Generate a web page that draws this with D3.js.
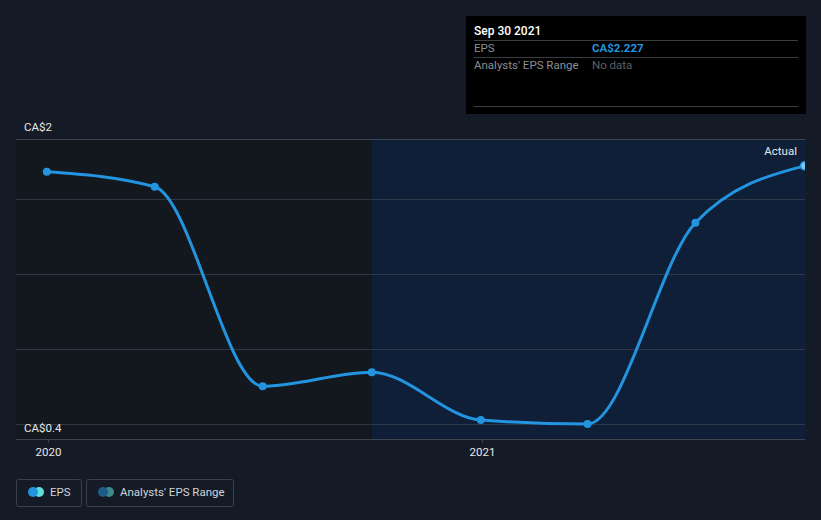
<!DOCTYPE html>
<html><head><meta charset="utf-8">
<script src="https://cdn.jsdelivr.net/npm/d3@7/dist/d3.min.js"></script>
<style>
html,body{margin:0;padding:0;background:#151b26;}
svg{display:block;font-family:Roboto,"Noto Sans",sans-serif;}
</style></head>
<body>
<svg id="c" width="821" height="520"></svg>
<script>
const dates = ["2019-12-31","2020-03-31","2020-06-30","2020-09-30","2020-12-31","2021-03-31","2021-06-30","2021-09-30"];
const eps = [2.187, 2.087, 0.753, 0.847, 0.527, 0.50, 1.847, 2.227];
const gridValues = [0.5, 1.0, 1.5, 2.0];
const yLabels = [{v:2.4, t:"CA$2"}, {v:0.4, t:"CA$0.4"}];
const xTicks = ["2020-01-01","2021-01-01"];
const xTickLabels = ["2020","2021"];
const forecastStart = "2020-09-30";

(function(){
const parse = d3.utcParse("%Y-%m-%d");
const data = dates.map((d,i)=>({date:parse(d), v:eps[i]}));
const svg = d3.select("#c");
const W=821,H=520;
svg.append("rect").attr("width",W).attr("height",H).attr("fill","#151b26");

const pl=16, pr=805, pt=140, pb=439;
const x0 = d3.scaleUtc().domain([parse("2020-01-01"), parse("2021-01-01")]).range([48,482]);
const y = d3.scaleLinear().domain([0.4,2.4]).range([pb,pt]);

const xs = x0(parse(forecastStart));
svg.append("rect").attr("x",pl).attr("y",pt).attr("width",xs-pl).attr("height",pb-pt).attr("fill","#13171e");
svg.append("rect").attr("x",xs).attr("y",pt).attr("width",pr-xs).attr("height",pb-pt).attr("fill","#0e1f37");

svg.append("g").selectAll("line").data(gridValues).join("line")
  .attr("x1",pl).attr("x2",pr).attr("y1",d=>Math.floor(y(d))+0.5).attr("y2",d=>Math.floor(y(d))+0.5)
  .attr("stroke","#2f3847").attr("stroke-width",1);
svg.append("line").attr("x1",pl).attr("x2",pr).attr("y1",pt-0.5).attr("y2",pt-0.5).attr("stroke","#3d434f");
svg.append("line").attr("x1",pl).attr("x2",pr).attr("y1",pb+0.5).attr("y2",pb+0.5).attr("stroke","#3d434f");

svg.append("text").attr("x",24).attr("y",y(yLabels[0].v)-9).attr("fill","#e6e8ea").attr("font-size",11.5).text(yLabels[0].t);
svg.append("text").attr("x",24).attr("y",y(yLabels[1].v)-7).attr("fill","#e6e8ea").attr("font-size",11.5).text(yLabels[1].t);

const xAxis = d3.axisBottom(x0).tickValues(xTicks.map(parse)).tickFormat((d,i)=>xTickLabels[i]).tickSize(4).tickPadding(5);
const gx = svg.append("g").attr("transform",`translate(0,${pb})`).call(xAxis);
gx.select(".domain").remove();
gx.selectAll("line").attr("stroke","#3d434f");
gx.selectAll("text").attr("fill","#e6e8ea").attr("font-size",11.5).attr("font-family","Roboto,sans-serif");

const line = d3.line().x(d=>x0(d.date)).y(d=>y(d.v)).curve(d3.curveMonotoneX);
svg.append("path").datum(data).attr("d",line).attr("fill","none").attr("stroke","#2394df").attr("stroke-width",3);
svg.append("g").selectAll("circle").data(data.slice(0,-1)).join("circle")
  .attr("cx",d=>x0(d.date)).attr("cy",d=>y(d.v)).attr("r",4).attr("fill","#2394df");
const last = data[data.length-1];
svg.append("circle").attr("cx",x0(last.date)).attr("cy",y(last.v)).attr("r",4).attr("fill","#7cc4f2").attr("stroke","#2394df").attr("stroke-width",1.5);

svg.append("rect").attr("x",pr).attr("y",pt-2).attr("width",W-pr).attr("height",pb-pt+4).attr("fill","#151b26");

svg.append("text").attr("x",797).attr("y",155).attr("text-anchor","end").attr("fill","#e6e8ea").attr("font-size",11.5).text("Actual");

const tt = svg.append("g");
tt.append("rect").attr("x",466).attr("y",16).attr("width",340).attr("height",98).attr("fill","#000");
tt.append("text").attr("x",474).attr("y",35).attr("fill","#ffffff").attr("font-size",12).attr("font-weight",500).text("Sep 30 2021");
[40,57,106].forEach(yy=>tt.append("line").attr("x1",474).attr("x2",798).attr("y1",yy+0.5).attr("y2",yy+0.5).attr("stroke","#3a3d42"));
tt.append("text").attr("x",474).attr("y",52).attr("fill","#8a8e94").attr("font-size",11.5).text("EPS");
tt.append("text").attr("x",592).attr("y",52).attr("fill","#2394df").attr("font-size",11.5).attr("font-weight",700).text("CA$" + eps[eps.length-1].toFixed(3));
tt.append("text").attr("x",474).attr("y",69).attr("fill","#8a8e94").attr("font-size",11.5).text("Analysts' EPS Range");
tt.append("text").attr("x",592).attr("y",69).attr("fill","#5c6066").attr("font-size",11.5).text("No data");

const lg = svg.append("g");
lg.append("rect").attr("x",16.5).attr("y",479.5).attr("width",65).attr("height",27).attr("rx",2).attr("fill","none").attr("stroke","#3a404c");
lg.append("circle").attr("cx",39).attr("cy",492).attr("r",5).attr("fill","#5ee0d8");
lg.append("circle").attr("cx",33).attr("cy",492).attr("r",5).attr("fill","#2394df");
lg.append("text").attr("x",50).attr("y",496).attr("fill","#d0d3d7").attr("font-size",11.5).text("EPS");
lg.append("rect").attr("x",86.5).attr("y",479.5).attr("width",147).attr("height",27).attr("rx",2).attr("fill","none").attr("stroke","#3a404c");
lg.append("circle").attr("cx",109).attr("cy",492).attr("r",5).attr("fill","#3e8a88");
lg.append("circle").attr("cx",103).attr("cy",492).attr("r",5).attr("fill","#1f5b8a");
lg.append("text").attr("x",120).attr("y",496).attr("fill","#d0d3d7").attr("font-size",11.5).text("Analysts' EPS Range");
})();
</script>
</body></html>
